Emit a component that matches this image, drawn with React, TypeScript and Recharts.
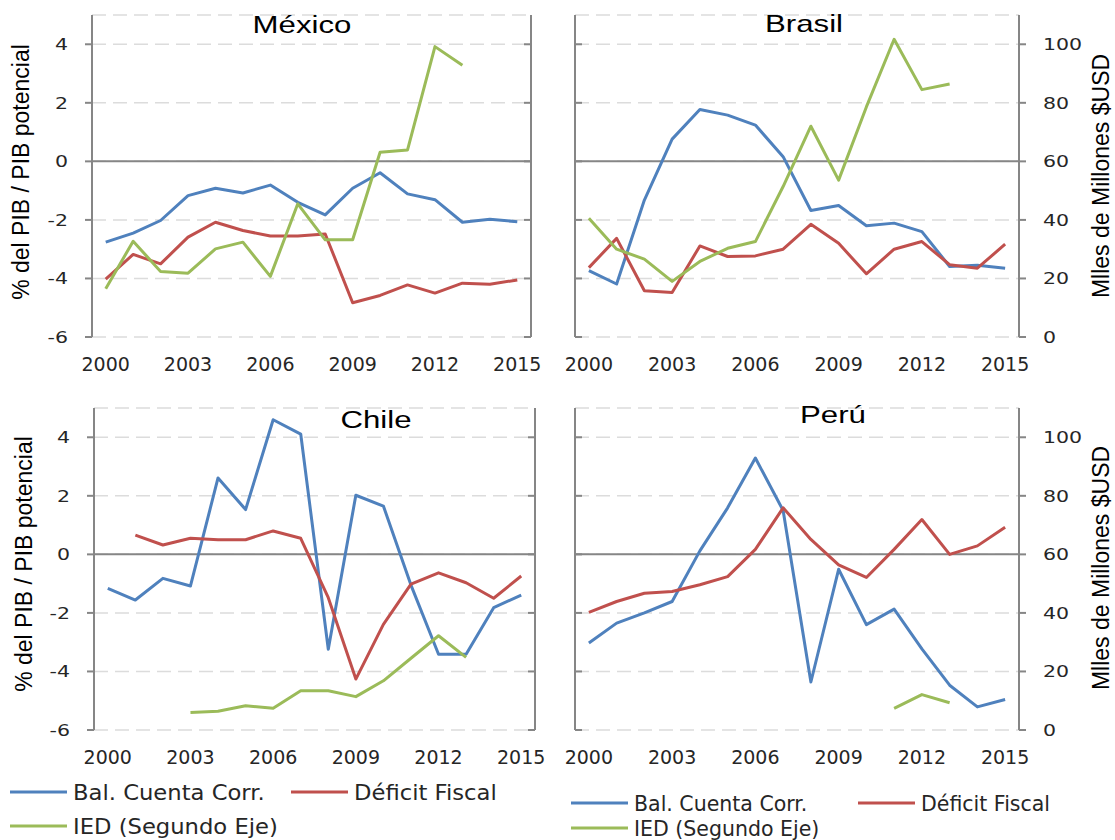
import React from "react";
import { CartesianGrid, Line, LineChart, ReferenceLine, XAxis, YAxis } from "recharts";

// Balance en cuenta corriente, déficit fiscal (% del PIB / PIB potencial)
// e IED (miles de millones USD, segundo eje), 2000-2015.

const years = [
  2000, 2001, 2002, 2003, 2004, 2005, 2006, 2007, 2008, 2009, 2010, 2011, 2012, 2013, 2014, 2015,
];
const xTicks = [2000, 2003, 2006, 2009, 2012, 2015];
const pctTicks = [-6, -4, -2, 0, 2, 4];
const iedTicks = [0, 20, 40, 60, 80, 100];

const mexicoCuenta = [-2.76, -2.45, -2.02, -1.17, -0.92, -1.08, -0.81, -1.4, -1.83, -0.92, -0.39, -1.11, -1.31, -2.08, -1.98, -2.06];
const mexicoDeficit = [-4.02, -3.18, -3.5, -2.59, -2.08, -2.36, -2.55, -2.55, -2.48, -4.83, -4.58, -4.22, -4.5, -4.16, -4.2, -4.05];
const mexicoIed = [16.5, 32.7, 22.4, 21.8, 30.1, 32.4, 20.7, 45.5, 33.2, 33.2, 63.1, 63.9, 99.2, 92.8, null, null];

const brasilCuenta = [-3.73, -4.19, -1.32, 0.76, 1.77, 1.58, 1.24, 0.16, -1.68, -1.51, -2.2, -2.11, -2.4, -3.59, -3.55, -3.65];
const brasilDeficit = [-3.63, -2.63, -4.42, -4.48, -2.89, -3.25, -3.23, -3.0, -2.15, -2.8, -3.84, -3.0, -2.74, -3.53, -3.65, -2.83];
const brasilIed = [40.6, 30.0, 26.6, 19.0, 25.8, 30.3, 32.6, 51.4, 72.0, 53.6, 78.6, 101.7, 84.5, 86.4, null, null];

const chileCuenta = [-1.16, -1.56, -0.82, -1.08, 2.61, 1.53, 4.6, 4.11, -3.24, 2.02, 1.65, -1.05, -3.41, -3.41, -1.82, -1.39];
const chileDeficit = [null, 0.66, 0.32, 0.55, 0.5, 0.5, 0.8, 0.55, -1.48, -4.26, -2.39, -1.02, -0.63, -0.97, -1.5, -0.74];
const chileIed = [null, null, null, 6.0, 6.4, 8.3, 7.4, 13.4, 13.4, 11.4, 16.8, 24.5, 32.2, 24.8, null, null];

const peruCuenta = [-3.03, -2.35, -2.0, -1.61, 0.12, 1.59, 3.29, 1.5, -4.36, -0.51, -2.4, -1.87, -3.23, -4.47, -5.21, -4.96];
const peruDeficit = [-1.98, -1.61, -1.33, -1.27, -1.04, -0.76, 0.17, 1.59, 0.51, -0.36, -0.79, 0.17, 1.19, 0.0, 0.29, 0.93];
const peruIed = [null, null, null, null, null, null, null, null, null, null, null, 7.4, 12.1, 9.3, null, null];

const seriesNames = ["Bal. Cuenta Corr.", "Déficit Fiscal", "IED (Segundo Eje)"];
const seriesColors = ["#4F81BD", "#C0504D", "#9BBB59"];

const AXIS = "#868686";
const TEXT = "#262626";
const GRID = "#dcdcdc";

type Num = number | null;

function buildRows(cuenta: Num[], deficit: Num[], ied: Num[]) {
  return years.map((year, i) => ({
    year,
    cuenta: cuenta[i],
    deficit: deficit[i],
    ied: ied[i],
  }));
}

const XTick = (props: any) => {
  const { x, y, payload } = props;
  return (
    <text x={x} y={y + 34} textAnchor="middle" fontFamily="DejaVu Sans" fontSize={19} fill={TEXT}>
      {payload.value}
    </text>
  );
};

const YTick = (props: any) => {
  const { x, y, payload, orientation } = props;
  return (
    <g transform={`translate(${x},${y})`}>
      <text
        textAnchor={orientation === "right" ? "start" : "end"}
        dy="0.36em"
        transform="scale(1.28,1)"
        fontFamily="DejaVu Sans"
        fontSize={16}
        fill={TEXT}
      >
        {payload.value}
      </text>
    </g>
  );
};

const NoTick = () => <g />;

interface PanelProps {
  left: number;
  top: number;
  width: number;
  marginTop: number;
  leftWidth: number;
  rightWidth: number;
  xHeight: number;
  labelSide: "left" | "right";
  cuenta: Num[];
  deficit: Num[];
  ied: Num[];
}

function Panel({
  left,
  top,
  width,
  marginTop,
  leftWidth,
  rightWidth,
  xHeight,
  labelSide,
  cuenta,
  deficit,
  ied,
}: PanelProps) {
  const data = buildRows(cuenta, deficit, ied);
  const axisLine = { stroke: AXIS, strokeWidth: 2 };
  const tickLine = { stroke: AXIS, strokeWidth: 2 };
  const leftLabeled = labelSide === "left";

  return (
    <div style={{ position: "absolute", left, top }}>
      <LineChart
        width={width}
        height={400}
        data={data}
        margin={{ top: marginTop, right: 0, bottom: 0, left: 0 }}
      >
        <CartesianGrid
          yAxisId="pct"
          vertical={false}
          stroke={GRID}
          strokeWidth={1.5}
          strokeDasharray="14 7"
        />
        <XAxis
          dataKey="year"
          type="number"
          domain={[1999.5, 2015.5]}
          ticks={xTicks}
          interval={0}
          height={xHeight}
          axisLine={false}
          tickLine={false}
          tickSize={0}
          tickMargin={0}
          tick={<XTick />}
        />
        <YAxis
          yAxisId="pct"
          orientation="left"
          domain={[-6, 5]}
          ticks={pctTicks}
          interval={0}
          width={leftWidth}
          axisLine={axisLine}
          tickLine={tickLine}
          tickSize={leftLabeled ? 7 : -7}
          tickMargin={17}
          tick={leftLabeled ? <YTick orientation="left" /> : NoTick}
        />
        <YAxis
          yAxisId="ied"
          orientation="right"
          domain={[0, 110]}
          ticks={iedTicks}
          interval={0}
          width={rightWidth}
          axisLine={axisLine}
          tickLine={tickLine}
          tickSize={leftLabeled ? -7 : 7}
          tickMargin={17}
          tick={leftLabeled ? NoTick : <YTick orientation="right" />}
        />
        <ReferenceLine yAxisId="pct" y={0} stroke={AXIS} strokeWidth={2} />
        <Line
          yAxisId="pct"
          type="linear"
          dataKey="cuenta"
          stroke={seriesColors[0]}
          strokeWidth={3}
          dot={false}
          strokeLinejoin="round"
          isAnimationActive={false}
        />
        <Line
          yAxisId="pct"
          type="linear"
          dataKey="deficit"
          stroke={seriesColors[1]}
          strokeWidth={3}
          dot={false}
          strokeLinejoin="round"
          isAnimationActive={false}
        />
        <Line
          yAxisId="ied"
          type="linear"
          dataKey="ied"
          stroke={seriesColors[2]}
          strokeWidth={3}
          dot={false}
          strokeLinejoin="round"
          isAnimationActive={false}
        />
      </LineChart>
    </div>
  );
}

const titleFont = "Liberation Sans, Arial, sans-serif";

function Title({ x, y, text }: { x: number; y: number; text: string }) {
  return (
    <text
      transform={`translate(${x},${y}) scale(1.3,1)`}
      textAnchor="middle"
      fontFamily={titleFont}
      fontSize={24}
      fill="#000"
    >
      {text}
    </text>
  );
}

function AxisTitle({ x, y, text }: { x: number; y: number; text: string }) {
  return (
    <text
      transform={`translate(${x},${y}) rotate(-90)`}
      textAnchor="middle"
      fontFamily={titleFont}
      fontSize={23}
      fill="#000"
    >
      {text}
    </text>
  );
}

// legend rows: [lineX, lineY, textX, baseline]
function LegendItem({
  idx,
  x,
  y,
  fontSize,
  scale,
}: {
  idx: number;
  x: number;
  y: number;
  fontSize: number;
  scale: number;
}) {
  return (
    <g>
      <line x1={x} x2={x + 57} y1={y} y2={y} stroke={seriesColors[idx]} strokeWidth={3} />
      <text
        transform={`translate(${x + 63},${y + 8}) scale(${scale},1)`}
        fontFamily="DejaVu Sans"
        fontSize={fontSize}
        fill={TEXT}
      >
        {seriesNames[idx]}
      </text>
    </g>
  );
}

export default function App() {
  return (
    <div
      style={{
        position: "absolute",
        left: 0,
        top: 0,
        width: 1115,
        height: 840,
        background: "#fff",
        overflow: "hidden",
      }}
    >
      <Panel
        left={0}
        top={0}
        width={560}
        marginTop={15}
        leftWidth={92}
        rightWidth={29}
        xHeight={63}
        labelSide="left"
        cuenta={mexicoCuenta}
        deficit={mexicoDeficit}
        ied={mexicoIed}
      />
      <Panel
        left={560}
        top={0}
        width={555}
        marginTop={15}
        leftWidth={15}
        rightWidth={96}
        xHeight={63}
        labelSide="right"
        cuenta={brasilCuenta}
        deficit={brasilDeficit}
        ied={brasilIed}
      />
      <Panel
        left={0}
        top={390}
        width={560}
        marginTop={18}
        leftWidth={94}
        rightWidth={25}
        xHeight={60}
        labelSide="left"
        cuenta={chileCuenta}
        deficit={chileDeficit}
        ied={chileIed}
      />
      <Panel
        left={560}
        top={390}
        width={555}
        marginTop={18}
        leftWidth={15}
        rightWidth={96}
        xHeight={60}
        labelSide="right"
        cuenta={peruCuenta}
        deficit={peruDeficit}
        ied={peruIed}
      />
      <svg
        width={1115}
        height={840}
        style={{ position: "absolute", left: 0, top: 0, pointerEvents: "none" }}
      >
        <Title x={302} y={33} text="México" />
        <Title x={804} y={32} text="Brasil" />
        <Title x={376} y={428} text="Chile" />
        <Title x={833} y={423} text="Perú" />

        <AxisTitle x={29} y={172} text="% del PIB / PIB potencial" />
        <AxisTitle x={32} y={564} text="% del PIB / PIB potencial" />
        <AxisTitle x={1109} y={176} text="Mlles de Millones $USD" />
        <AxisTitle x={1109} y={568} text="Mlles de Millones $USD" />

        <LegendItem idx={0} x={10} y={792} fontSize={21} scale={1.08} />
        <LegendItem idx={1} x={291} y={792} fontSize={21} scale={1.08} />
        <LegendItem idx={2} x={10} y={826} fontSize={21} scale={1.08} />

        <LegendItem idx={0} x={571} y={803} fontSize={20.5} scale={1} />
        <LegendItem idx={1} x={858} y={803} fontSize={20.5} scale={1} />
        <LegendItem idx={2} x={571} y={828} fontSize={20.5} scale={1} />
      </svg>
    </div>
  );
}
